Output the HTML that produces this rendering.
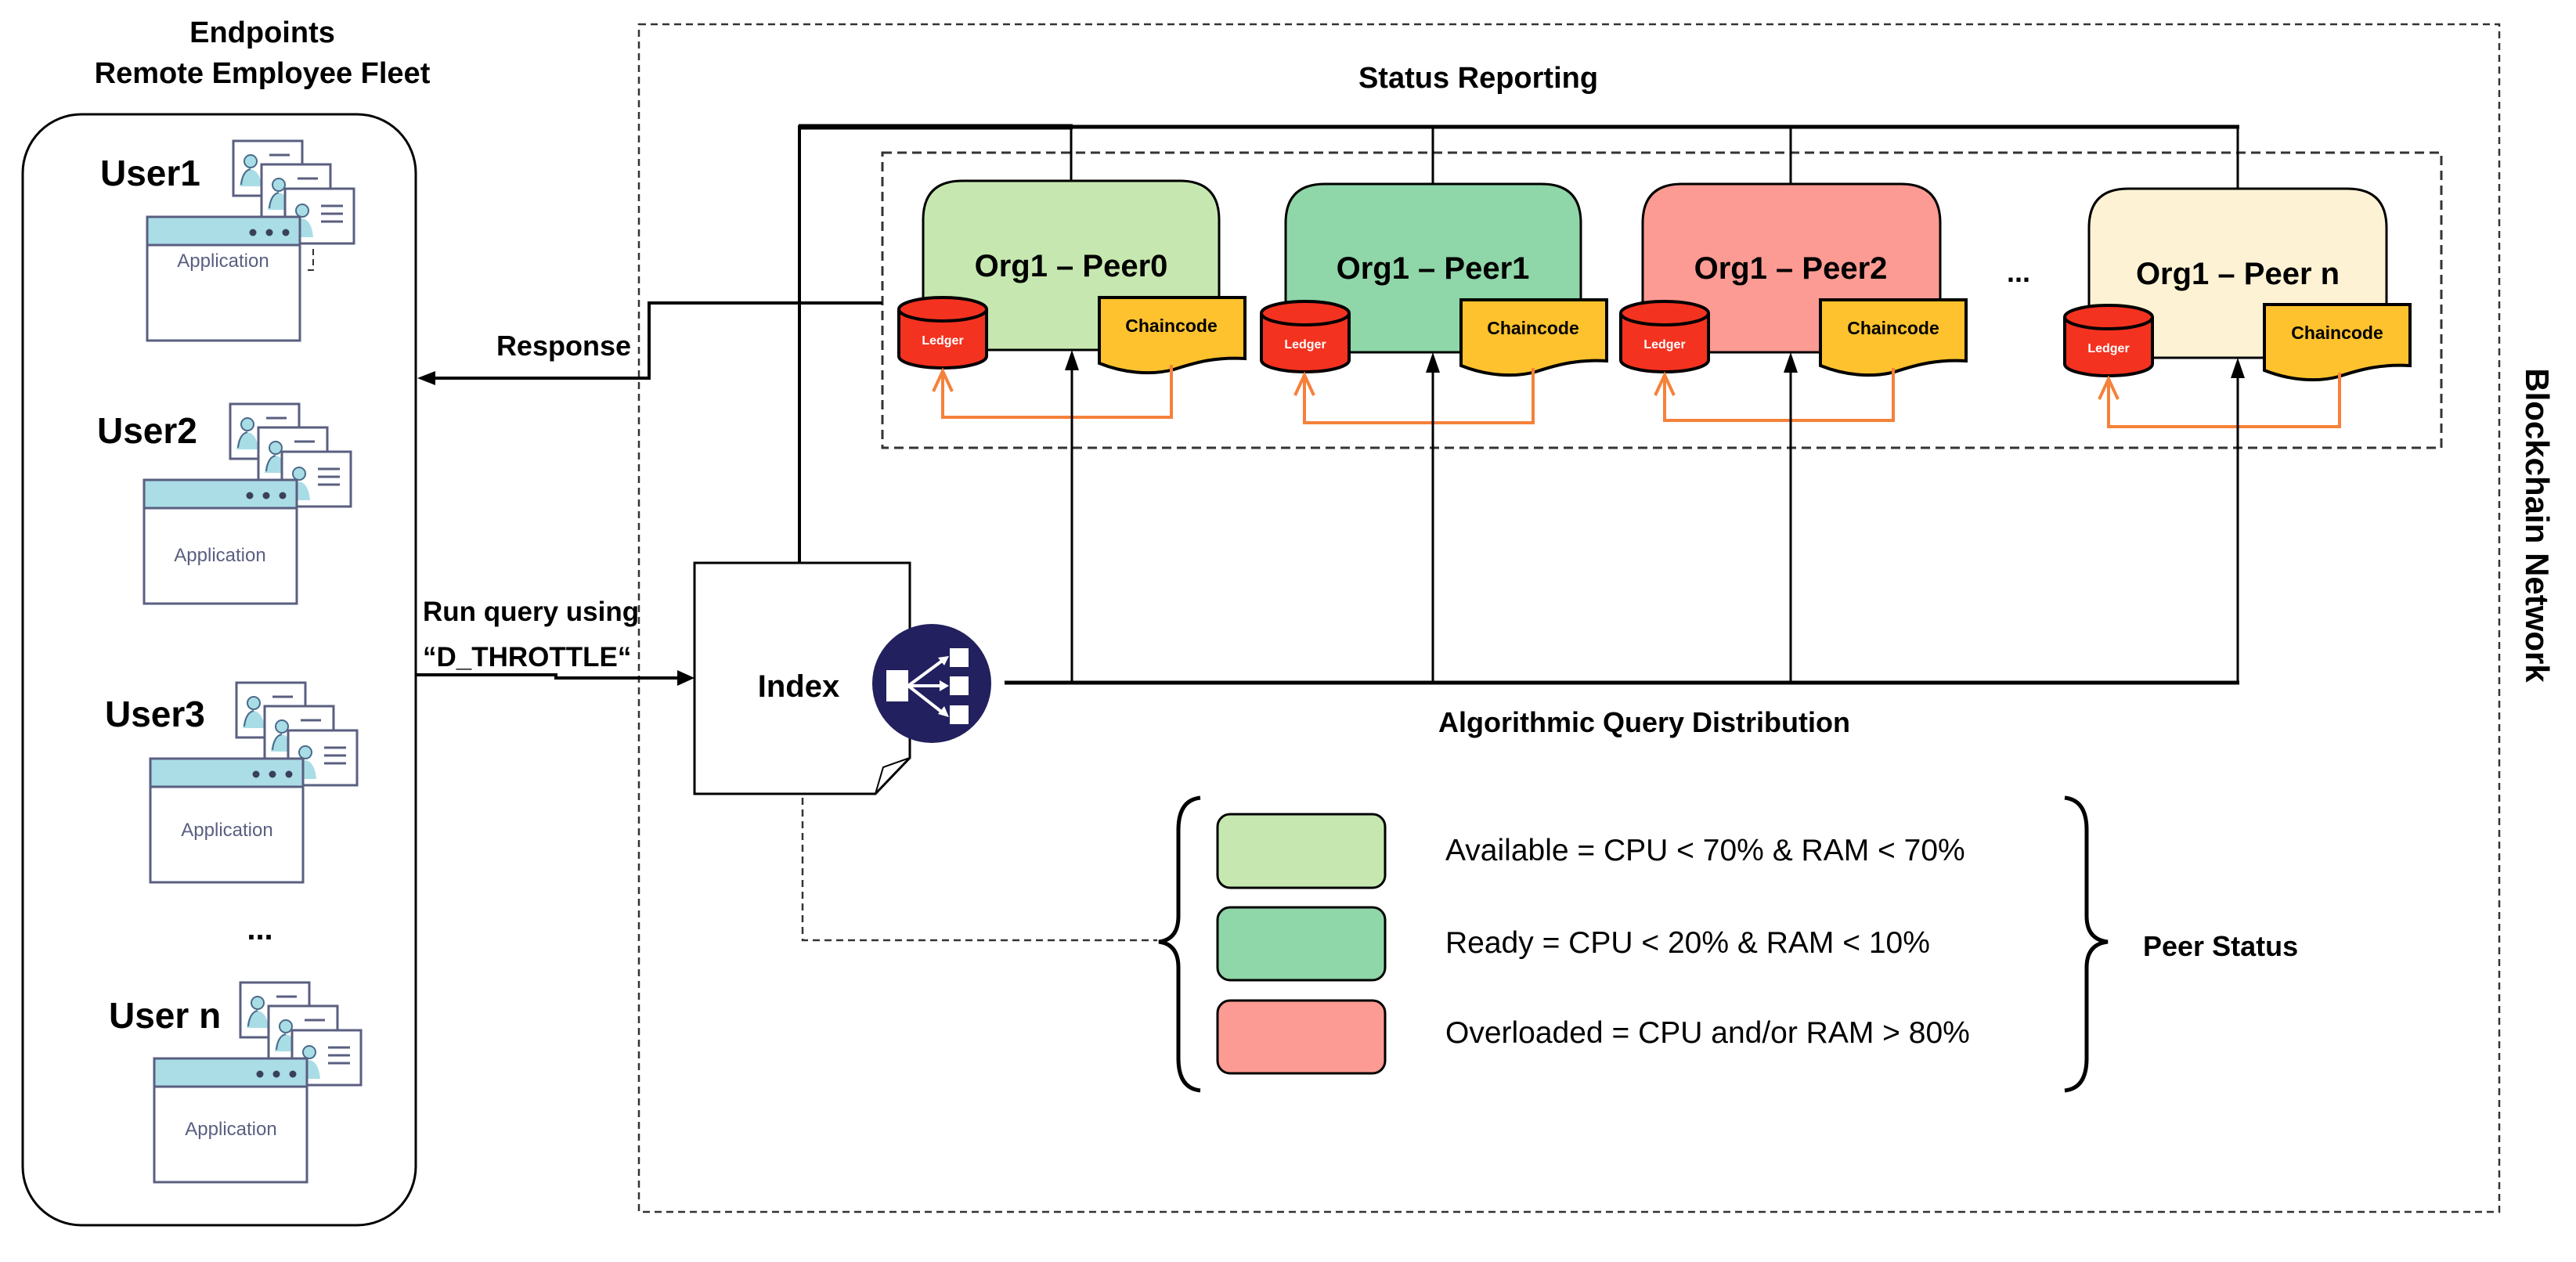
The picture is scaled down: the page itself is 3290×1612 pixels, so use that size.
<!DOCTYPE html>
<html><head><meta charset="utf-8"><style>
html,body{margin:0;padding:0;background:#fff;}
svg{display:block;}
text{font-family:"Liberation Sans",sans-serif;}
.b{font-weight:bold;fill:#000;}
</style></head><body>
<svg width="3290" height="1612" viewBox="0 0 3290 1612" xmlns="http://www.w3.org/2000/svg">
<defs>
<g id="card">
  <rect x="0" y="0" width="88" height="70" fill="#fff" stroke="#5a5f80" stroke-width="3"/>
  <path d="M8,58 Q10,38 22,36 Q34,38 36,58 Z" fill="#a9dde6"/>
  <circle cx="22" cy="26" r="8" fill="#a9dde6" stroke="#4a6a8a" stroke-width="2"/>
  <path d="M10,56 Q12,38 22,36" fill="none" stroke="#4a6a8a" stroke-width="2"/>
  <line x1="46" y1="18" x2="72" y2="18" stroke="#5a5f80" stroke-width="3"/>
</g>
<g id="card3">
  <rect x="0" y="0" width="88" height="70" fill="#fff" stroke="#5a5f80" stroke-width="3"/>
  <path d="M8,62 Q10,40 22,38 Q34,40 36,62 Z" fill="#a9dde6"/>
  <circle cx="22" cy="28" r="8" fill="#a9dde6" stroke="#4a6a8a" stroke-width="2"/>
  <line x1="46" y1="22" x2="74" y2="22" stroke="#5a5f80" stroke-width="3"/>
  <line x1="46" y1="32" x2="74" y2="32" stroke="#5a5f80" stroke-width="3"/>
  <line x1="46" y1="42" x2="74" y2="42" stroke="#5a5f80" stroke-width="3"/>
</g>
<g id="usr">
  <use href="#card" x="110" y="-97"/>
  <use href="#card" x="146" y="-67"/>
  <use href="#card3" x="176" y="-36"/>
  <rect x="0" y="0" width="195" height="158" fill="#fff" stroke="#5a5f80" stroke-width="3"/>
  <rect x="1.5" y="1.5" width="192" height="34" fill="#aadde6"/>
  <line x1="0" y1="36" x2="195" y2="36" stroke="#5a5f80" stroke-width="3"/>
  <circle cx="135" cy="20" r="4.5" fill="#3a3f5c"/>
  <circle cx="156" cy="20" r="4.5" fill="#3a3f5c"/>
  <circle cx="177" cy="20" r="4.5" fill="#3a3f5c"/>
</g>
<g id="ledger">
  <path d="M0,15 A56,15 0 0 1 112,15 L112,75 A56,15 0 0 1 0,75 Z" fill="#f43220" stroke="#000" stroke-width="4"/>
  <path d="M0,15 A56,15 0 0 0 112,15" fill="none" stroke="#000" stroke-width="4"/>
</g>
<g id="chain">
  <path d="M0,0 H186 V78 C150,76 125,82 95,92 C65,100 30,96 0,84 Z" fill="#fec22e" stroke="#000" stroke-width="4"/>
</g>
</defs>

<text x="335" y="54" class="b" font-size="38" text-anchor="middle">Endpoints</text>
<text x="335" y="106" class="b" font-size="38" text-anchor="middle">Remote Employee Fleet</text>

<rect x="29" y="146" width="502" height="1419" rx="75" fill="none" stroke="#000" stroke-width="3"/>

<use href="#usr" x="188" y="277"/>
<text x="285" y="341" font-size="24" fill="#5a5f80" text-anchor="middle">Application</text>
<text x="128" y="237" class="b" font-size="46">User1</text>
<path d="M400,318 V345 H390" fill="none" stroke="#333" stroke-width="2" stroke-dasharray="8,5"/>

<use href="#usr" x="184" y="613"/>
<text x="281" y="717" font-size="24" fill="#5a5f80" text-anchor="middle">Application</text>
<text x="124" y="566" class="b" font-size="46">User2</text>

<use href="#usr" x="192" y="969"/>
<text x="290" y="1068" font-size="24" fill="#5a5f80" text-anchor="middle">Application</text>
<text x="134" y="928" class="b" font-size="46">User3</text>

<text x="332" y="1200" class="b" font-size="40" text-anchor="middle">...</text>

<use href="#usr" x="197" y="1352"/>
<text x="295" y="1450" font-size="24" fill="#5a5f80" text-anchor="middle">Application</text>
<text x="139" y="1313" class="b" font-size="46">User n</text>

<rect x="816" y="31" width="2376" height="1517" fill="none" stroke="#333" stroke-width="2.5" stroke-dasharray="9,6"/>
<text transform="translate(3226,671) rotate(90)" class="b" font-size="42" text-anchor="middle">Blockchain Network</text>

<text x="1888" y="112" class="b" font-size="38" text-anchor="middle">Status Reporting</text>

<rect x="1127" y="195" width="1991" height="377" fill="none" stroke="#333" stroke-width="3" stroke-dasharray="12,7"/>

<line x1="1020" y1="162" x2="1370" y2="162" stroke="#000" stroke-width="7"/>
<line x1="1368" y1="162" x2="2860" y2="162" stroke="#000" stroke-width="5"/>
<line x1="1368" y1="162" x2="1368" y2="231" stroke="#000" stroke-width="3"/>
<line x1="1830" y1="162" x2="1830" y2="235" stroke="#000" stroke-width="3"/>
<line x1="2287" y1="162" x2="2287" y2="235" stroke="#000" stroke-width="3"/>
<line x1="2858" y1="162" x2="2858" y2="241" stroke="#000" stroke-width="3"/>
<line x1="1021" y1="160" x2="1021" y2="725" stroke="#000" stroke-width="4"/>
<polygon points="1012,718 1030,718 1021,746" fill="#000"/>

<path d="M1179,447 V281 Q1179,231 1229,231 H1507 Q1557,231 1557,281 V447 Z" fill="#c6e8b0" stroke="#000" stroke-width="3"/>
<path d="M1642,450 V285 Q1642,235 1692,235 H1969 Q2019,235 2019,285 V450 Z" fill="#8fd6a8" stroke="#000" stroke-width="3"/>
<path d="M2098,450 V285 Q2098,235 2148,235 H2428 Q2478,235 2478,285 V450 Z" fill="#fc9b93" stroke="#000" stroke-width="3"/>
<path d="M2668,457 V291 Q2668,241 2718,241 H2998 Q3048,241 3048,291 V457 Z" fill="#fdf3d4" stroke="#000" stroke-width="3"/>

<text x="1368" y="353" class="b" font-size="40" text-anchor="middle">Org1 – Peer0</text>
<text x="1830" y="356" class="b" font-size="40" text-anchor="middle">Org1 – Peer1</text>
<text x="2287" y="356" class="b" font-size="40" text-anchor="middle">Org1 – Peer2</text>
<text x="2858" y="363" class="b" font-size="40" text-anchor="middle">Org1 – Peer n</text>
<text x="2578" y="360" class="b" font-size="36" text-anchor="middle">...</text>

<use href="#ledger" x="1148" y="380"/>
<use href="#ledger" x="1611" y="385"/>
<use href="#ledger" x="2070" y="385"/>
<use href="#ledger" x="2637" y="390"/>
<text x="1204" y="440" font-size="16" font-weight="bold" fill="#fff" text-anchor="middle">Ledger</text>
<text x="1667" y="445" font-size="16" font-weight="bold" fill="#fff" text-anchor="middle">Ledger</text>
<text x="2126" y="445" font-size="16" font-weight="bold" fill="#fff" text-anchor="middle">Ledger</text>
<text x="2693" y="450" font-size="16" font-weight="bold" fill="#fff" text-anchor="middle">Ledger</text>

<use href="#chain" x="1404" y="380"/>
<use href="#chain" x="1866" y="383"/>
<use href="#chain" x="2325" y="383"/>
<use href="#chain" x="2892" y="389"/>
<text x="1496" y="424" class="b" font-size="23" text-anchor="middle">Chaincode</text>
<text x="1958" y="427" class="b" font-size="23" text-anchor="middle">Chaincode</text>
<text x="2418" y="427" class="b" font-size="23" text-anchor="middle">Chaincode</text>
<text x="2985" y="433" class="b" font-size="23" text-anchor="middle">Chaincode</text>

<g fill="none" stroke="#f5813a" stroke-width="4">
<path d="M1496,466 V533 H1204 V474"/><path d="M1192,500 L1204,474 L1216,500"/>
<path d="M1958,470 V540 H1666 V479"/><path d="M1654,505 L1666,479 L1678,505"/>
<path d="M2418,470 V537 H2126 V479"/><path d="M2114,505 L2126,479 L2138,505"/>
<path d="M2988,476 V545 H2693 V484"/><path d="M2681,510 L2693,484 L2705,510"/>
</g>

<path d="M1127,387 H829 V483 H545" fill="none" stroke="#000" stroke-width="4"/>
<polygon points="533,483 556,474 556,492" fill="#000"/>
<text x="806" y="454" class="b" font-size="36" text-anchor="end">Response</text>

<text x="540" y="793" class="b" font-size="35">Run query using</text>
<text x="540" y="851" class="b" font-size="35">“D_THROTTLE“</text>
<path d="M531,862 H710 V866 H870" fill="none" stroke="#000" stroke-width="4"/>
<polygon points="887,866 865,856 865,876" fill="#000"/>

<path d="M887,719 H1162 V968 L1118,1014 H887 Z" fill="#fff" stroke="#000" stroke-width="3"/>
<path d="M1162,968 L1128,980 L1118,1014" fill="none" stroke="#000" stroke-width="2"/>
<text x="1020" y="890" class="b" font-size="40" text-anchor="middle">Index</text>

<circle cx="1190" cy="873" r="76" fill="#22205e"/>
<rect x="1132" y="856" width="28" height="40" fill="#fff"/>
<rect x="1213" y="828" width="24" height="24" fill="#fff"/>
<rect x="1213" y="864" width="24" height="24" fill="#fff"/>
<rect x="1213" y="901" width="24" height="24" fill="#fff"/>
<g stroke="#fff" stroke-width="4" fill="none">
<line x1="1160" y1="876" x2="1206" y2="842"/><line x1="1160" y1="876" x2="1206" y2="876"/><line x1="1160" y1="876" x2="1206" y2="912"/>
</g>
<polygon points="1212,838 1198,840 1206,850" fill="#fff"/>
<polygon points="1212,876 1200,869 1200,883" fill="#fff"/>
<polygon points="1212,916 1206,902 1198,912" fill="#fff"/>

<line x1="1283" y1="872" x2="2860" y2="872" stroke="#000" stroke-width="5"/>
<g stroke="#000" stroke-width="3">
<line x1="1369" y1="872" x2="1369" y2="470"/>
<line x1="1830" y1="872" x2="1830" y2="473"/>
<line x1="2287" y1="872" x2="2287" y2="473"/>
<line x1="2858" y1="872" x2="2858" y2="480"/>
</g>
<polygon points="1369,447 1360,473 1378,473" fill="#000"/>
<polygon points="1830,450 1821,476 1839,476" fill="#000"/>
<polygon points="2287,450 2278,476 2296,476" fill="#000"/>
<polygon points="2858,457 2849,483 2867,483" fill="#000"/>
<text x="2100" y="935" class="b" font-size="36" text-anchor="middle">Algorithmic Query Distribution</text>

<path d="M1025,1019 V1201 H1478" fill="none" stroke="#333" stroke-width="2.5" stroke-dasharray="9,6"/>

<path d="M1533,1019 Q1505,1022 1505,1060 L1505,1170 Q1505,1200 1480,1203 Q1505,1206 1505,1236 L1505,1352 Q1505,1390 1533,1393" fill="none" stroke="#000" stroke-width="5"/>
<path d="M2637,1019 Q2665,1022 2665,1060 L2665,1170 Q2665,1200 2692,1203 Q2665,1206 2665,1236 L2665,1352 Q2665,1390 2637,1393" fill="none" stroke="#000" stroke-width="5"/>

<rect x="1555" y="1040" width="214" height="94" rx="16" fill="#c6e8b0" stroke="#000" stroke-width="3"/>
<rect x="1555" y="1159" width="214" height="93" rx="16" fill="#8fd6a8" stroke="#000" stroke-width="3"/>
<rect x="1555" y="1278" width="214" height="93" rx="16" fill="#fc9b93" stroke="#000" stroke-width="3"/>
<text x="1846" y="1099" font-size="39" fill="#000">Available = CPU &lt;  70% &amp; RAM &lt; 70%</text>
<text x="1846" y="1217" font-size="39" fill="#000">Ready = CPU &lt; 20% &amp; RAM &lt; 10%</text>
<text x="1846" y="1332" font-size="39" fill="#000">Overloaded = CPU and/or RAM &gt; 80%</text>
<text x="2737" y="1221" class="b" font-size="36">Peer Status</text>
</svg>
</body></html>
